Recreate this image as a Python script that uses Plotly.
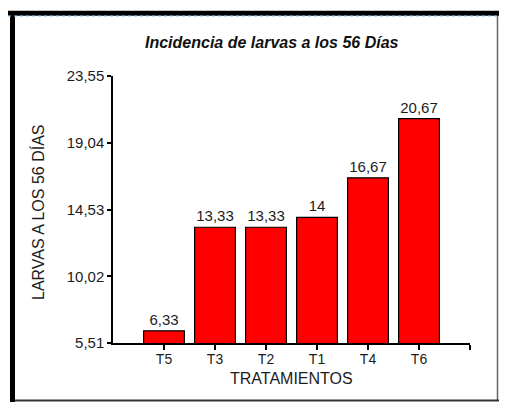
import plotly.graph_objects as go

CATEGORIES = ["T5", "T3", "T2", "T1", "T4", "T6"]
LARVAS = [6.33, 13.33, 13.33, 14, 16.67, 20.67]
Y_TICKS = [5.51, 10.02, 14.53, 19.04, 23.55]

TITLE = "<b><i>Incidencia de larvas a los 56 Días</i></b>"
X_TITLE = "TRATAMIENTOS"
Y_TITLE = "LARVAS A LOS 56 DÍAS"

# page body keeps an 8px margin all round, so the figure is 16px smaller
# than the window and everything is offset by 8px
OFF = 8
W, H = 507 - 2 * OFF, 410 - 2 * OFF
# plot area in window pixels: x 113..470, y 76..343
L, R, T, B = 113 - OFF, (507 - OFF) - 470, 76 - OFF, (410 - OFF) - 343
PW, PH = W - L - R, H - T - B


def px(x):
    return (x - OFF - L) / PW


def py(y):
    return (H - B - (y - OFF)) / PH


FONT = "Liberation Sans, Arial, sans-serif"
TEXT = "#1c1c1c"

labels = [f"{v:g}".replace(".", ",") for v in LARVAS]
positions = list(range(len(CATEGORIES)))

fig = go.Figure()
fig.add_trace(go.Bar(
    x=positions,
    y=LARVAS,
    width=0.8,
    text=labels,
    textposition="outside",
    textfont=dict(size=15, color=TEXT, family=FONT),
    marker=dict(color="#ff0000", line=dict(color="#000000", width=1.2)),
    cliponaxis=False,
))

fig.update_layout(
    width=W,
    height=H,
    margin=dict(l=L, r=R, t=T, b=B),
    paper_bgcolor="white",
    plot_bgcolor="white",
    separators=",.",
    showlegend=False,
    font=dict(family=FONT, color=TEXT, size=14),
    xaxis=dict(
        range=[-1, len(CATEGORIES)],
        tickvals=list(range(len(CATEGORIES) + 1)),
        ticktext=CATEGORIES + [""],
        showgrid=False,
        zeroline=False,
        showline=True,
        linecolor="#000000",
        linewidth=1.5,
        ticks="outside",
        ticklen=5,
        tickwidth=1.5,
        tickcolor="#000000",
        ticklabelstandoff=-3,
        tickfont=dict(size=14, family=FONT, color=TEXT),
    ),
    yaxis=dict(
        range=[Y_TICKS[0], Y_TICKS[-1]],
        tickvals=Y_TICKS,
        tickformat=".2f",
        showgrid=False,
        zeroline=False,
        showline=True,
        linecolor="#000000",
        linewidth=1.5,
        ticks="outside",
        ticklen=4,
        tickwidth=1.5,
        tickcolor="#000000",
        tickfont=dict(size=15, family=FONT, color=TEXT),
    ),
    annotations=[
        dict(text=TITLE, x=px(272), y=py(43), xref="paper", yref="paper",
             showarrow=False, xanchor="center", yanchor="middle",
             font=dict(size=16, family=FONT, color="#111111")),
        dict(text=X_TITLE, x=px(291), y=py(379), xref="paper", yref="paper",
             showarrow=False, xanchor="center", yanchor="middle",
             font=dict(size=16, family=FONT, color=TEXT)),
        dict(text=Y_TITLE, x=px(38), y=py(212), xref="paper", yref="paper",
             showarrow=False, xanchor="center", yanchor="middle", textangle=-90,
             font=dict(size=16, family=FONT, color=TEXT)),
    ],
    shapes=[
        # outer frame: thin right/bottom, thick left/top
        dict(type="line", xref="paper", yref="paper",
             x0=px(497.5), x1=px(497.5), y0=py(401), y1=py(11),
             line=dict(color="#666666", width=1.5)),
        dict(type="line", xref="paper", yref="paper",
             x0=px(10), x1=px(499), y0=py(400.5), y1=py(400.5),
             line=dict(color="#333333", width=2)),
        dict(type="line", xref="paper", yref="paper",
             x0=px(12.5), x1=px(12.5), y0=py(402), y1=py(11),
             line=dict(color="#000000", width=5)),
        dict(type="line", xref="paper", yref="paper",
             x0=px(8), x1=px(499), y0=py(13.2), y1=py(13.2),
             line=dict(color="#000000", width=5)),
        dict(type="line", xref="paper", yref="paper",
             x0=px(8), x1=px(499), y0=py(16), y1=py(16),
             line=dict(color="#7fbfe6", width=1, dash="dot")),
    ],
)

fig.write_html("out.html")
